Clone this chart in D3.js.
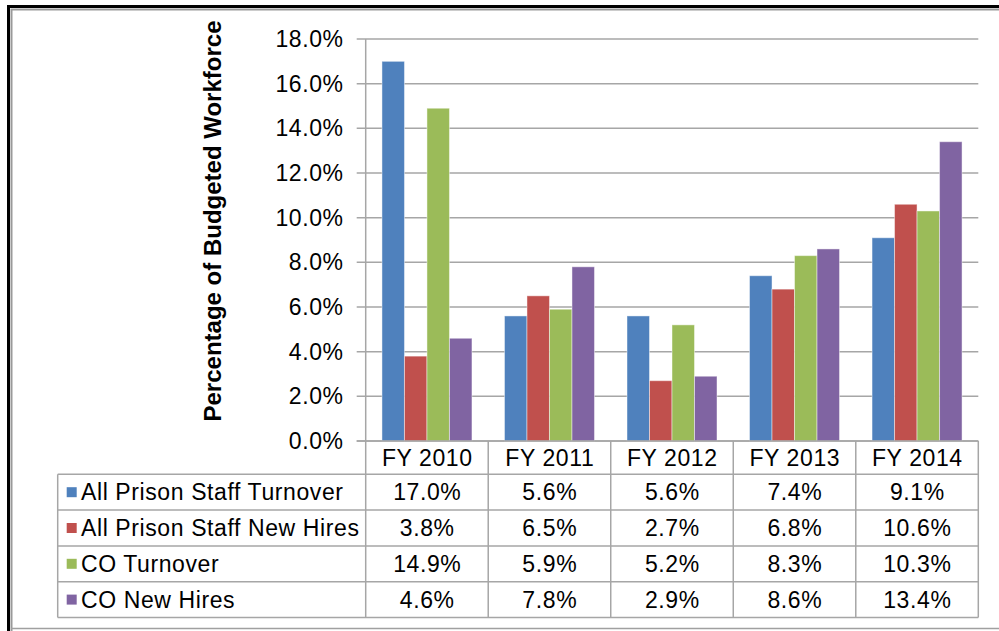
<!DOCTYPE html>
<html>
<head>
<meta charset="utf-8">
<script src="https://cdn.jsdelivr.net/npm/d3@7.9.0/dist/d3.min.js"></script>
<style>
  html, body { margin: 0; padding: 0; background: #fff; }
  svg { display: block; }
  text { font-family: "Liberation Sans", Arial, sans-serif; fill: #000; }
  .lbl { font-size: 23px; letter-spacing: 0.6px; }
</style>
</head>
<body>
<svg id="chart" width="999" height="631"></svg>
<script>
const years = ['FY 2010', 'FY 2011', 'FY 2012', 'FY 2013', 'FY 2014'];
const seriesNames = ['All Prison Staff Turnover', 'All Prison Staff New Hires', 'CO Turnover', 'CO New Hires'];
const seriesColors = ['#4f81bd', '#c0504d', '#9bbb59', '#8064a2'];
const staffTurnover = [17.0, 5.6, 5.6, 7.4, 9.1];
const staffNewHires = [3.8, 6.5, 2.7, 6.8, 10.6];
const coTurnover = [14.9, 5.9, 5.2, 8.3, 10.3];
const coNewHires = [4.6, 7.8, 2.9, 8.6, 13.4];
const yTicks = [0, 2, 4, 6, 8, 10, 12, 14, 16, 18];
const yLabel = 'Percentage of Budgeted Workforce';

const series = [staffTurnover, staffNewHires, coTurnover, coNewHires];

const svg = d3.select('#chart');
const gridColor = '#a6a6a6';

// plot area
const plotLeft = 365.7, plotRight = 978.3, plotTop = 39, plotBottom = 441;
const rowH = 35.8, headerBottom = 474.3, tableLeft = 57.7;

const x = d3.scaleBand().domain(years).range([plotLeft, plotRight]).paddingInner(0).paddingOuter(0);
const groupPad = (x.bandwidth() - 90) / 2;
const xs = d3.scaleBand().domain(d3.range(series.length)).range([0, 90]);
const y = d3.scaleLinear().domain([0, 18]).range([plotBottom, plotTop]);
const fmt = v => d3.format('.1f')(v) + '%';

// frame
svg.append('path')
    .attr('d', `M11.5,631 V9.5 H999`)
    .attr('fill', 'none').attr('stroke', '#999').attr('stroke-width', 2);
svg.append('path')
    .attr('d', `M8.5,631 V6.5 H999`)
    .attr('fill', 'none').attr('stroke', '#000').attr('stroke-width', 3);
svg.append('line')
    .attr('x1', 11).attr('x2', 999).attr('y1', 628.5).attr('y2', 628.5)
    .attr('stroke', '#a0a0a0').attr('stroke-width', 1.5);

// gridlines + y ticks
const yAxis = svg.append('g');
yTicks.forEach(t => {
    yAxis.append('line')
        .attr('x1', plotLeft - 9).attr('x2', plotRight)
        .attr('y1', y(t)).attr('y2', y(t))
        .attr('stroke', gridColor).attr('stroke-width', 1.5);
    yAxis.append('text')
        .attr('class', 'lbl')
        .attr('x', 343.6).attr('y', y(t))
        .attr('dy', '0.35em')
        .attr('text-anchor', 'end')
        .text(fmt(t));
});
yAxis.append('line')
    .attr('x1', plotLeft).attr('x2', plotLeft)
    .attr('y1', plotTop).attr('y2', plotBottom)
    .attr('stroke', gridColor).attr('stroke-width', 1.5);

svg.append('text')
    .attr('transform', `translate(221,221) rotate(-90)`)
    .attr('text-anchor', 'middle')
    .attr('font-size', 24)
    .attr('font-weight', 'bold')
    .text(yLabel);

// bars
series.forEach((vals, si) => {
    svg.append('g').selectAll('rect')
        .data(vals)
        .join('rect')
        .attr('x', (d, i) => x(years[i]) + groupPad + xs(si))
        .attr('width', xs.bandwidth())
        .attr('y', d => y(d))
        .attr('height', d => y(0) - y(d))
        .attr('fill', seriesColors[si])
        .attr('stroke', 'rgba(255,255,255,0.45)')
        .attr('stroke-width', 1);
});

// data table
const tableBottom = headerBottom + rowH * series.length;
const table = svg.append('g');
// column lines
[plotLeft, ...years.map(c => x(c) + x.bandwidth())].forEach(cx => {
    table.append('line')
        .attr('x1', cx).attr('x2', cx)
        .attr('y1', plotBottom).attr('y2', tableBottom)
        .attr('stroke', gridColor).attr('stroke-width', 1.5);
});
table.append('line')
    .attr('x1', tableLeft).attr('x2', tableLeft)
    .attr('y1', headerBottom).attr('y2', tableBottom)
    .attr('stroke', gridColor).attr('stroke-width', 1.5);
// row lines
d3.range(series.length + 1).forEach(r => {
    table.append('line')
        .attr('x1', tableLeft).attr('x2', plotRight)
        .attr('y1', headerBottom + r * rowH).attr('y2', headerBottom + r * rowH)
        .attr('stroke', gridColor).attr('stroke-width', 1.5);
});
// x axis line over the bars' base
svg.append('line')
    .attr('x1', plotLeft - 9).attr('x2', plotRight)
    .attr('y1', plotBottom).attr('y2', plotBottom)
    .attr('stroke', gridColor).attr('stroke-width', 1.5);

// header labels
years.forEach(c => {
    table.append('text')
        .attr('class', 'lbl')
        .attr('x', x(c) + x.bandwidth() / 2 + 0.3)
        .attr('y', (plotBottom + headerBottom) / 2)
        .attr('dy', '0.35em')
        .attr('text-anchor', 'middle')
        .text(c);
});

// rows
series.forEach((vals, si) => {
    const cy = headerBottom + rowH * si + rowH / 2;
    table.append('rect')
        .attr('x', 66.7).attr('y', cy - 5)
        .attr('width', 10).attr('height', 10)
        .attr('fill', seriesColors[si]);
    table.append('text')
        .attr('class', 'lbl')
        .attr('x', 81).attr('y', cy)
        .attr('dy', '0.35em')
        .text(seriesNames[si]);
    vals.forEach((v, i) => {
        table.append('text')
            .attr('class', 'lbl')
            .attr('x', x(years[i]) + x.bandwidth() / 2 + 0.3)
            .attr('y', cy)
            .attr('dy', '0.35em')
            .attr('text-anchor', 'middle')
            .text(fmt(v));
    });
});
</script>
</body>
</html>
